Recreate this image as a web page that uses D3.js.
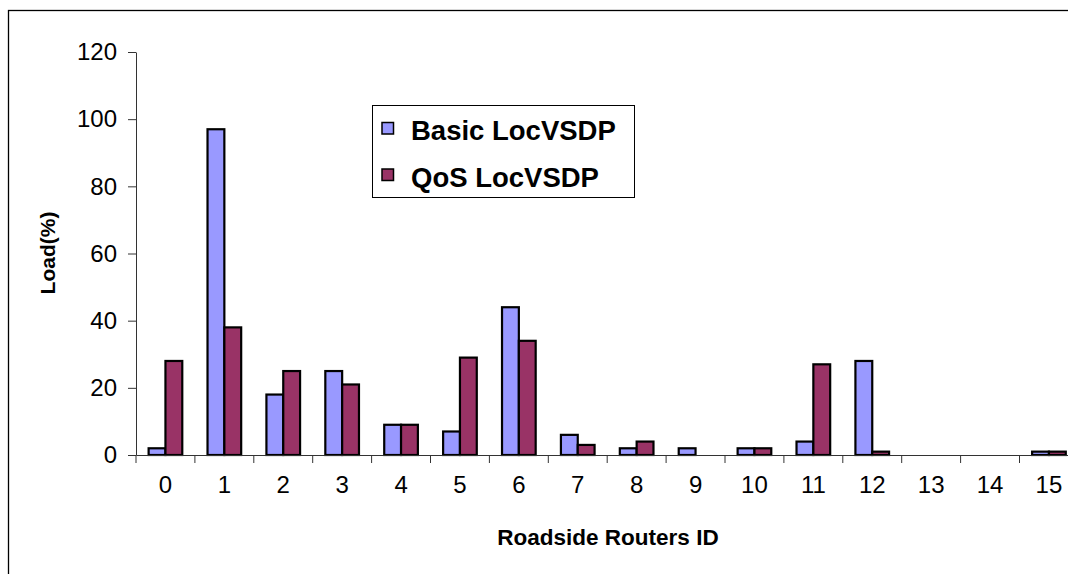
<!DOCTYPE html>
<html>
<head>
<meta charset="utf-8">
<script src="https://cdn.jsdelivr.net/npm/d3@7"></script>
<style>
  body { margin: 0; background: #fff; }
  svg { display: block; font-family: "Liberation Sans", Arial, sans-serif; }
</style>
</head>
<body>
<div id="chart"></div>
<script>
// data
const routers = ["0","1","2","3","4","5","6","7","8","9","10","11","12","13","14","15"];
const seriesNames = ["Basic LocVSDP", "QoS LocVSDP"];
const basicLoad = [2, 97, 18, 25, 9, 7, 44, 6, 2, 2, 2, 4, 28, 0, 0, 1];
const qosLoad = [28, 38, 25, 21, 9, 29, 34, 3, 4, 0, 2, 27, 1, 0, 0, 1];
const yTicks = [0, 20, 40, 60, 80, 100, 120];
const colors = ["#9999ff", "#993366"];

const width = 1068, height = 574;
const plotLeft = 136, step = 58.9, plotTop = 52, base = 455;

const svg = d3.select("#chart").append("svg")
    .attr("width", width)
    .attr("height", height);

// outer frame
svg.append("rect")
    .attr("x", 8.5).attr("y", 10.5)
    .attr("width", 1100).attr("height", 600)
    .attr("fill", "none").attr("stroke", "#000").attr("stroke-width", 1.3);

const x = d3.scaleBand()
    .domain(routers)
    .range([plotLeft, plotLeft + step * routers.length])
    .paddingInner(0).paddingOuter(0);

const x1 = d3.scaleBand()
    .domain(seriesNames)
    .range([0, x.bandwidth()])
    .paddingInner(0).paddingOuter(0.75);

const y = d3.scaleLinear().domain([0, 120]).range([base, plotTop]);

const table = routers.map((r, i) => ({
    id: r,
    values: [
        {name: seriesNames[0], v: basicLoad[i]},
        {name: seriesNames[1], v: qosLoad[i]}
    ]
}));

const color = d3.scaleOrdinal().domain(seriesNames).range(colors);

// bars
const g = svg.selectAll(".grp")
    .data(table)
  .enter().append("g")
    .attr("class", "grp")
    .attr("transform", d => "translate(" + x(d.id) + ",0)");

g.selectAll("rect")
    .data(d => d.values.filter(e => e.v > 0))
  .enter().append("rect")
    .attr("x", d => x1(d.name))
    .attr("y", d => y(d.v))
    .attr("width", x1.bandwidth())
    .attr("height", d => base - y(d.v))
    .attr("fill", d => color(d.name))
    .attr("stroke", "#000")
    .attr("stroke-width", 2.2);

// y axis
const yAxis = svg.append("g")
    .attr("transform", "translate(" + plotLeft + ",0)")
    .call(d3.axisLeft(y).tickValues(yTicks).tickSize(8).tickSizeOuter(0).tickPadding(11));
yAxis.select(".domain").attr("stroke", "#333");
yAxis.selectAll(".tick line").attr("stroke", "#333");
yAxis.selectAll("text")
    .attr("font-size", 24)
    .attr("fill", "#000")
    .attr("font-family", "Liberation Sans, Arial, sans-serif");

// x axis
const xAxis = svg.append("g")
    .attr("transform", "translate(0," + base + ")")
    .call(d3.axisBottom(x).tickSize(0).tickSizeOuter(0).tickPadding(38));
xAxis.select(".domain").attr("stroke", "#333");
xAxis.selectAll("text")
    .attr("font-size", 24)
    .attr("fill", "#000")
    .attr("dy", 0)
    .attr("font-family", "Liberation Sans, Arial, sans-serif");

// category boundary ticks
xAxis.selectAll(".bound")
    .data(routers)
  .enter().append("line")
    .attr("class", "bound")
    .attr("x1", d => x(d)).attr("x2", d => x(d))
    .attr("y1", 0).attr("y2", 8)
    .attr("stroke", "#333");

// axis titles
svg.append("text")
    .attr("transform", "translate(47,253) rotate(-90)")
    .attr("text-anchor", "middle")
    .attr("dominant-baseline", "central")
    .attr("font-weight", "bold")
    .attr("font-size", 21)
    .text("Load(%)");

svg.append("text")
    .attr("x", 608).attr("y", 545)
    .attr("text-anchor", "middle")
    .attr("font-weight", "bold")
    .attr("font-size", 22.5)
    .text("Roadside Routers ID");

// legend
const legend = svg.append("g");
legend.append("rect")
    .attr("x", 372.5).attr("y", 105.5)
    .attr("width", 262).attr("height", 92)
    .attr("fill", "#fff").attr("stroke", "#000").attr("stroke-width", 1);

const item = legend.selectAll(".item")
    .data(seriesNames)
  .enter().append("g")
    .attr("class", "item")
    .attr("transform", (d, i) => "translate(0," + (i * 46.5) + ")");

item.append("rect")
    .attr("x", 382).attr("y", 122.5)
    .attr("width", 11.5).attr("height", 11.5)
    .attr("fill", d => color(d))
    .attr("stroke", "#000").attr("stroke-width", 1.5);

item.append("text")
    .attr("x", 411).attr("y", 140)
    .attr("font-weight", "bold")
    .attr("font-size", 27.5)
    .text(d => d);
</script>
</body>
</html>
